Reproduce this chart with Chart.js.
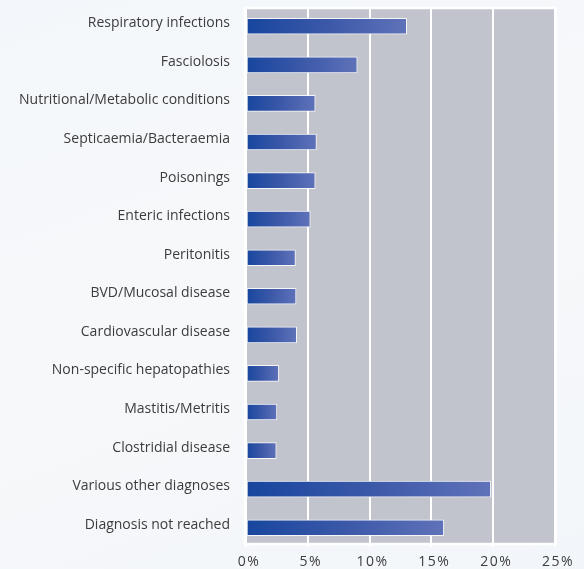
<!DOCTYPE html>
<html>
<head>
<meta charset="utf-8">
<script src="https://cdn.jsdelivr.net/npm/chart.js@4/dist/chart.umd.min.js"></script>
<style>
	html, body { margin: 0; padding: 0; }
	body { background: linear-gradient(160deg, #f3f7fb 0%, #f7f8fa 50%, #f2f6fa 100%); }
	#wrap { position: relative; width: 584px; height: 569px; }
</style>
</head>
<body>
<div id="wrap"><canvas id="myBar" width="584" height="569"></canvas></div>
<script>
// categories, top to bottom
var categories = [
	'Respiratory infections',
	'Fasciolosis',
	'Nutritional/Metabolic conditions',
	'Septicaemia/Bacteraemia',
	'Poisonings',
	'Enteric infections',
	'Peritonitis',
	'BVD/Mucosal disease',
	'Cardiovascular disease',
	'Non-specific hepatopathies',
	'Mastitis/Metritis',
	'Clostridial disease',
	'Various other diagnoses',
	'Diagnosis not reached'
];

// percent of diagnoses
var percents = [13.0, 9.0, 5.6, 5.7, 5.6, 5.2, 4.0, 4.05, 4.1, 2.65, 2.5, 2.45, 19.8, 16.0];

var xTicks = [0, 5, 10, 15, 20, 25];

// grey plot panel with a white frame, plus letter spacing for the x labels
var plotPanel = {
	id: 'plotPanel',
	beforeDraw: function(chart) {
		var ctx = chart.ctx, a = chart.chartArea;
		ctx.save();
		ctx.fillStyle = '#c2c4cd';
		ctx.fillRect(a.left, a.top + 2, a.right - a.left, a.bottom - a.top - 6);
		ctx.strokeStyle = '#ffffff';
		ctx.lineWidth = 2.5;
		ctx.strokeRect(a.left - 1, a.top + 1, a.right - a.left + 2, a.bottom - a.top - 4);
		ctx.restore();
	},
	afterDatasetsDraw: function(chart) {
		chart.ctx.letterSpacing = '1.5px';
	},
	afterDraw: function(chart) {
		chart.ctx.letterSpacing = '0px';
	}
};

function barGradient(context) {
	var chart = context.chart;
	if (!chart.chartArea) return '#2a4fa5';
	var v = context.raw || 0;
	var x0 = chart.scales.x.getPixelForValue(0);
	var x1 = chart.scales.x.getPixelForValue(v);
	var g = chart.ctx.createLinearGradient(x0, 0, x1, 0);
	g.addColorStop(0, '#17469e');
	g.addColorStop(0.5, '#3b58a8');
	g.addColorStop(1, '#5f72b9');
	return g;
}

var config = {
	type: 'bar',
	data: {
		labels: categories,
		datasets: [{
			data: percents,
			backgroundColor: barGradient,
			borderColor: 'rgba(255,255,255,0.85)',
			borderWidth: 1,
			borderSkipped: false,
			barThickness: 16
		}]
	},
	options: {
		indexAxis: 'y',
		responsive: false,
		animation: false,
		layout: { padding: { top: 7, right: 29, bottom: 0, left: 0 } },
		plugins: {
			legend: { display: false },
			tooltip: { enabled: false }
		},
		scales: {
			x: {
				min: 0,
				max: 25,
				afterBuildTicks: function(scale) {
					scale.ticks = xTicks.map(function(v) { return { value: v }; });
				},
				afterFit: function(scale) {
					scale.height = 22;
					scale.paddingLeft = 0;
					scale.paddingRight = 0;
				},
				grid: { color: '#ffffff', lineWidth: 2, drawTicks: false },
				border: { display: false },
				ticks: {
					z: 1,
					padding: 7,
					labelOffset: 3,
					color: '#3c3c3c',
					font: { family: 'Open Sans', size: 14 },
					callback: function(v) { return v + '%'; }
				}
			},
			y: {
				afterFit: function(scale) {
					scale.width = 246;
					scale.paddingTop = 0;
					scale.paddingBottom = 0;
				},
				grid: { display: false, drawTicks: false },
				border: { display: false },
				ticks: {
					padding: 16,
					labelOffset: -3,
					color: '#3c3c3c',
					font: { family: 'Open Sans', size: 14 }
				}
			}
		}
	},
	plugins: [plotPanel]
};

var myBar = new Chart(document.getElementById('myBar'), config);
</script>
</body>
</html>
